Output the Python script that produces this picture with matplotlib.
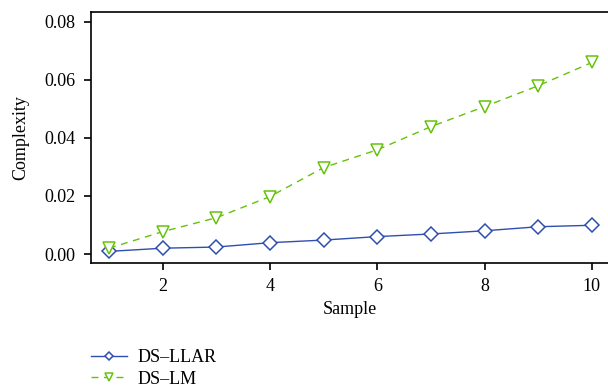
import matplotlib.pyplot as plt
import numpy as np

plt.rcParams['font.family'] = ['Liberation Serif', 'DejaVu Serif']

sample = [1, 2, 3, 4, 5, 6, 7, 8, 9, 10]
ds_llar = [0.0009, 0.002, 0.0024, 0.0039, 0.0048, 0.006, 0.0069, 0.008, 0.0094, 0.0099]
ds_lm = [0.002, 0.0077, 0.0125, 0.0198, 0.0298, 0.0359, 0.0439, 0.0508, 0.058, 0.066]

blue = '#2f4fb0'
green = '#66c20a'

fig = plt.figure(figsize=(6.08, 3.92), dpi=100)
ax = fig.add_axes([91/608, 1 - 263/392, 517/608, 251/392])

ax.plot(sample, ds_llar, color=blue, lw=1, marker='D', markersize=7,
        markerfacecolor='white', markeredgecolor=blue, markeredgewidth=1.1, label='DS\u2013LLAR')
ax.plot(sample, ds_lm, color=green, lw=1, ls=(0, (5, 4)), marker='v', markersize=9,
        markerfacecolor='white', markeredgecolor=green, markeredgewidth=1.1, label='DS\u2013LM')

ax.set_xlim(0.664, 10.3)
ax.set_ylim(-0.0031, 0.0834)
ax.set_xticks([2, 4, 6, 8, 10])
ax.set_yticks([0.0, 0.02, 0.04, 0.06, 0.08])
ax.set_yticklabels(['0.00', '0.02', '0.04', '0.06', '0.08'])
ax.spines['right'].set_visible(False)
for s in ['left', 'bottom', 'top']:
    ax.spines[s].set_linewidth(1.2)
ax.tick_params(labelsize=13, length=5, width=1.2, pad=6)
ax.set_xlabel('Sample', fontsize=13, labelpad=4)
ax.set_ylabel('Complexity', fontsize=13, labelpad=11)

fig.legend(loc='upper left', bbox_to_anchor=(91/608, 1 - 349/392), frameon=False,
           borderaxespad=0, borderpad=0,
           fontsize=13, handlelength=2.0, handletextpad=0.6, labelspacing=0.25, markerscale=0.6)

fig.savefig('out.png', dpi=100)
